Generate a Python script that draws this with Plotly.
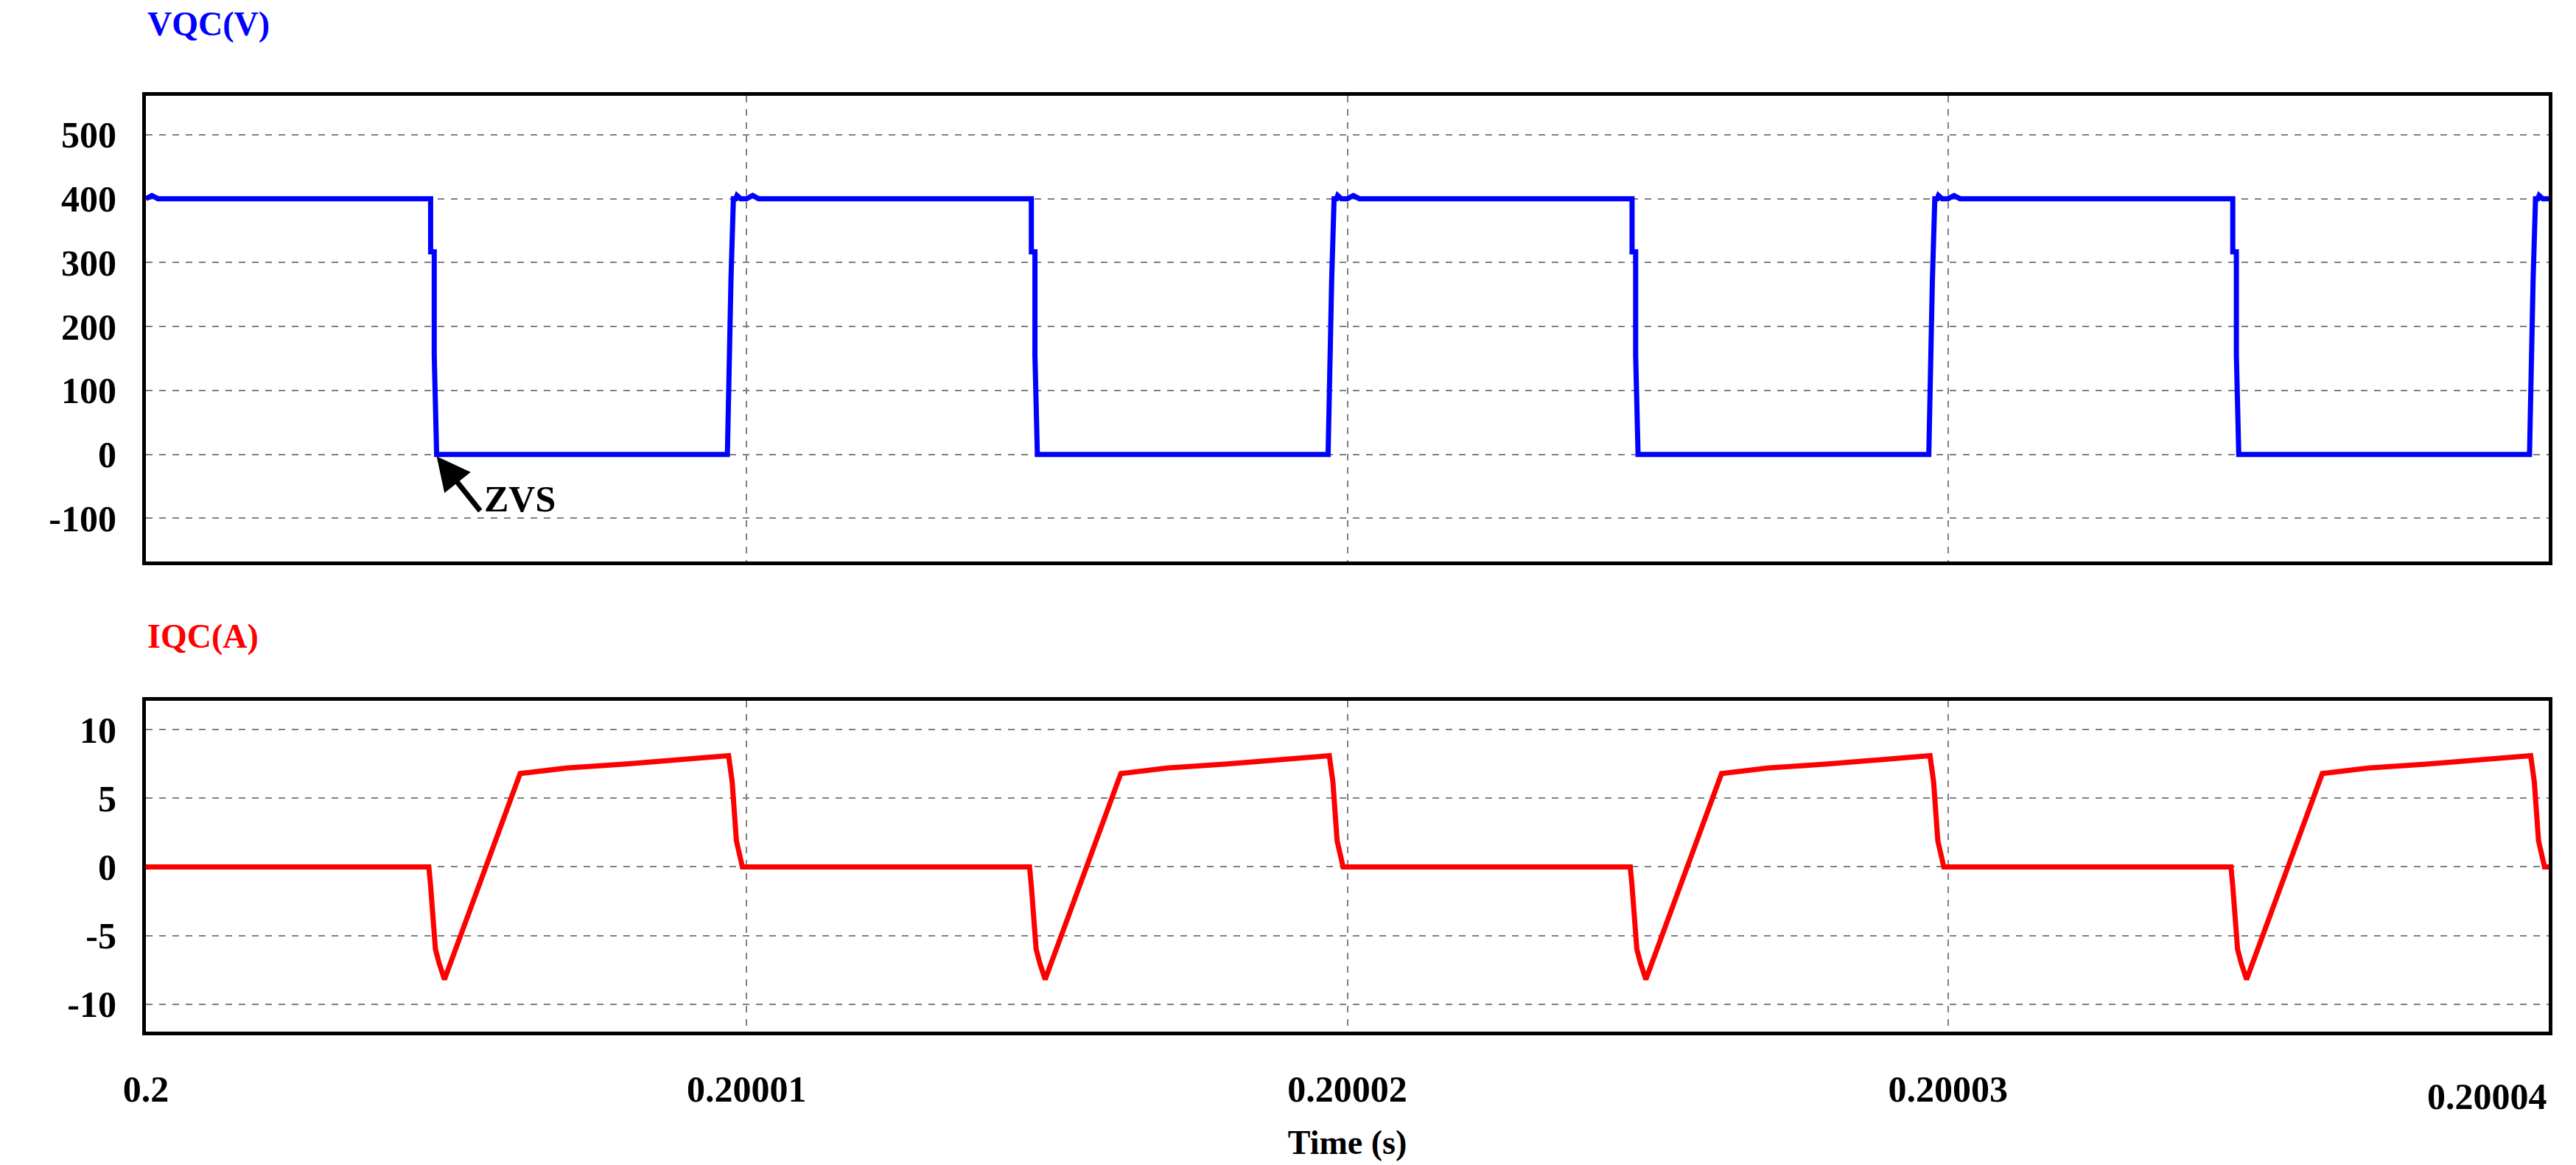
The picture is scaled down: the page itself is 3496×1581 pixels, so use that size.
import plotly.graph_objects as go

# period switching instants (microseconds after 0.2 s)
period_starts_us = [0.0, 10.0, 20.0, 30.0]
# voltage template within one period (offset us, volts)
v_off = [0.0, 0.1, 0.2, 4.71, 4.74, 4.74, 4.80, 4.80, 4.84, 9.68, 9.70, 9.70, 9.74, 9.74, 9.78, 9.82, 9.84, 9.90, 10.0]
v_val = [400, 405, 400, 400, 400, 317, 317, 155, 0, 0, 118, 118, 274, 274, 400, 400, 405, 400, 400]
# current template within one period (offset us, amps)
i_off = [0.0, 4.71, 4.74, 4.78, 4.82, 4.88, 4.97, 6.23, 6.40, 7.0, 8.0, 9.0, 9.70, 9.76, 9.83, 9.93, 10.0]
i_val = [0, 0, -1.4, -3.7, -6.0, -7.0, -8.2, 6.8, 6.9, 7.2, 7.5, 7.8, 8.1, 6.2, 1.9, 0, 0]

vx, vy, ix, iy = [], [], [], []
for p in period_starts_us:
    vx += [0.2 + (p + o) * 1e-6 for o in v_off]
    vy += v_val
    ix += [0.2 + (p + o) * 1e-6 for o in i_off]
    iy += i_val

x_ticks = [0.2, 0.20001, 0.20002, 0.20003, 0.20004]
x_tick_text = ["0.2", "0.20001", "0.20002", "0.20003", ""]
last_x_label = "0.20004"
v_ticks = [-100, 0, 100, 200, 300, 400, 500]
v_tick_text = ["-100", "0", "100", "200", "300", "400", "500"]
i_ticks = [-10, -5, 0, 5, 10]
i_tick_text = ["-10", "-5", "0", "5", "10"]

font = "Liberation Serif"
fig = go.Figure()
fig.add_trace(go.Scatter(x=vx, y=vy, mode="lines", line=dict(color="#0000ff", width=7), xaxis="x", yaxis="y"))
fig.add_trace(go.Scatter(x=ix, y=iy, mode="lines", line=dict(color="#ff0000", width=7), xaxis="x2", yaxis="y2"))

xr = [0.2, 0.20004]
axcommon = dict(showline=True, linecolor="black", linewidth=5, mirror=True,
                gridcolor="#808080", griddash="dash", gridwidth=2, zeroline=False,
                tickfont=dict(family=font, size=50, color="black", weight="bold"), ticks="")
fig.update_layout(
    width=3496, height=1581, showlegend=False,
    plot_bgcolor="white", paper_bgcolor="white",
    margin=dict(l=190, r=45, t=122, b=189),
    xaxis=dict(range=xr, domain=[0, 1], tickvals=x_ticks, showticklabels=False, anchor="y", **axcommon),
    yaxis=dict(range=[-168, 561], domain=[0.502, 1], tickvals=v_ticks, ticktext=v_tick_text, anchor="x", **axcommon),
    xaxis2=dict(range=xr, domain=[0, 1], tickvals=x_ticks, ticktext=x_tick_text, anchor="y2",
                title=dict(text="<b>Time (s)</b>", font=dict(family=font, size=46, color="black"), standoff=30), **axcommon),
    yaxis2=dict(range=[-12.0, 12.1], domain=[0, 0.3535], tickvals=i_ticks, ticktext=i_tick_text, anchor="x2", **axcommon),
)
fig.update_xaxes(ticklabelstandoff=30)
fig.update_yaxes(ticklabelstandoff=25)
fig.add_annotation(text=last_x_label, xref="paper", yref="paper", x=1.0, y=0, yshift=-58,
                   xanchor="right", yanchor="top", showarrow=False,
                   font=dict(family=font, size=50, color="black", weight="bold"))
fig.add_annotation(text="<b>VQC(V)</b>", xref="paper", yref="paper", x=0, y=1.0, yshift=70,
                   xanchor="left", yanchor="bottom", showarrow=False, font=dict(family=font, size=46, color="#0000ff"))
fig.add_annotation(text="<b>IQC(A)</b>", xref="paper", yref="paper", x=0, y=0.3535, yshift=60,
                   xanchor="left", yanchor="bottom", showarrow=False, font=dict(family=font, size=46, color="#ff0000"))
fig.add_annotation(x=0.2 + 4.84e-6, y=-3, xref="x", yref="y", ax=0.2 + 5.58e-6, ay=-90, axref="x", ayref="y",
                   showarrow=True, arrowhead=2, arrowsize=1.3, arrowwidth=7, arrowcolor="black", text="")
fig.add_annotation(x=0.2 + 5.6e-6, y=-70, xref="x", yref="y", text="<b>ZVS</b>", showarrow=False,
                   xanchor="left", yanchor="middle", font=dict(family=font, size=50, color="black"))
fig.write_html("out.html")
